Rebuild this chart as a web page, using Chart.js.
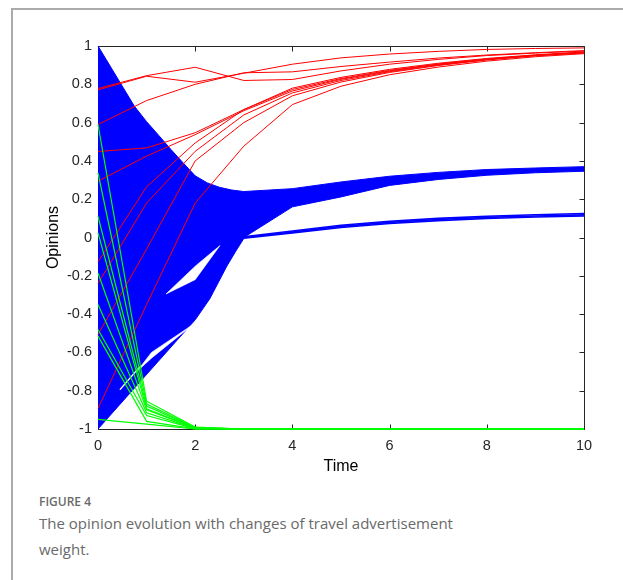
<!DOCTYPE html>
<html>
<head>
<meta charset="utf-8">
<script src="https://cdn.jsdelivr.net/npm/chart.js@4.4.1/dist/chart.umd.min.js"></script>
<style>
  html, body { margin: 0; padding: 0; background: #fff; width: 623px; height: 580px; overflow: hidden; }
  #frame { position: absolute; left: 11px; top: 8px; width: 700px; height: 700px;
           border-left: 2px solid #ababab; border-top: 2px solid #ababab; }
  #chart { position: absolute; left: 0; top: 0; }
  .caption { position: absolute; left: 39px; font-family: "Open Sans", "Noto Sans", sans-serif; color: #6a6a6a; white-space: nowrap; }
  #figno { top: 494px; font-size: 12px; font-weight: 600; line-height: 16px; }
  #figtext { top: 510px; font-size: 15px; font-weight: 400; line-height: 26px; }
</style>
</head>
<body>
<div id="frame"></div>
<canvas id="chart" width="623" height="480"></canvas>
<div id="figno" class="caption">FIGURE 4</div>
<div id="figtext" class="caption">The opinion evolution with changes of travel advertisement<br>weight.</div>
<script>
// time steps and axis ticks
const times = [0, 1, 2, 3, 4, 5, 6, 7, 8, 9, 10];
const xTickValues = [0, 2, 4, 6, 8, 10];
const yTickValues = [-1, -0.8, -0.6, -0.4, -0.2, 0, 0.2, 0.4, 0.6, 0.8, 1];

// opinions of the agents drawn in red, one row per agent, one value per time step
const redAgents = [
  [0.778, 0.845, 0.889, 0.820, 0.825, 0.870, 0.905, 0.930, 0.950, 0.963, 0.973],
  [0.771, 0.842, 0.811, 0.858, 0.905, 0.938, 0.958, 0.972, 0.982, 0.987, 0.990],
  [0.590, 0.715, 0.800, 0.860, 0.865, 0.893, 0.916, 0.937, 0.953, 0.965, 0.976],
  [0.449, 0.468, 0.547, 0.668, 0.773, 0.830, 0.873, 0.906, 0.932, 0.952, 0.967],
  [0.294, 0.425, 0.537, 0.662, 0.765, 0.826, 0.870, 0.904, 0.931, 0.951, 0.966],
  [-0.127, 0.265, 0.494, 0.668, 0.780, 0.836, 0.878, 0.910, 0.935, 0.954, 0.969],
  [-0.240, 0.180, 0.450, 0.640, 0.755, 0.820, 0.866, 0.901, 0.929, 0.950, 0.965],
  [-0.507, -0.060, 0.400, 0.600, 0.740, 0.812, 0.862, 0.898, 0.927, 0.949, 0.964],
  [-0.893, -0.350, 0.180, 0.477, 0.694, 0.790, 0.850, 0.890, 0.921, 0.944, 0.960]
];

// opinions of the agents drawn in green
const greenAgents = [
  [0.590, -0.855, -0.990, -1, -1, -1, -1, -1, -1, -1, -1],
  [0.338, -0.870, -0.992, -1, -1, -1, -1, -1, -1, -1, -1],
  [0.110, -0.880, -0.994, -1, -1, -1, -1, -1, -1, -1, -1],
  [0.024, -0.895, -0.995, -1, -1, -1, -1, -1, -1, -1, -1],
  [-0.185, -0.900, -0.996, -1, -1, -1, -1, -1, -1, -1, -1],
  [-0.350, -0.915, -0.997, -1, -1, -1, -1, -1, -1, -1, -1],
  [-0.480, -0.930, -0.998, -1, -1, -1, -1, -1, -1, -1, -1],
  [-0.515, -0.960, -0.999, -1, -1, -1, -1, -1, -1, -1, -1],
  [-0.950, -0.975, -1.000, -1, -1, -1, -1, -1, -1, -1, -1]
];

// upper and lower edges of the dense bundle of blue trajectories, [time, opinion]
const blueBundleTop = [
  [0, 1.0], [0.25, 0.895], [0.5, 0.79], [0.75, 0.685], [1.0, 0.605], [1.25, 0.533],
  [1.5, 0.46], [1.75, 0.39], [2.0, 0.322], [2.25, 0.285], [2.5, 0.262], [2.75, 0.248],
  [3.0, 0.24], [4, 0.255], [5, 0.29], [6, 0.32], [7, 0.34], [8, 0.355], [9, 0.363], [10, 0.37]
];
const blueBundleBottom = [
  [0, -1.0], [2.0, -0.43], [2.3, -0.32], [2.65, -0.15], [2.85, -0.065], [3.0, -0.005],
  [3.05, 0.008], [4, 0.16], [5, 0.212], [6, 0.272], [7, 0.303], [8, 0.325], [9, 0.338], [10, 0.346]
];

// the lower blue cluster from t = 3 onwards
const blueLowerClusterTimes = [3, 4, 5, 6, 7, 8, 9, 10];
const blueLowerCluster = [
  [-0.004, 0.024, 0.052, 0.073, 0.088, 0.099, 0.107, 0.112],
  [0.000, 0.029, 0.058, 0.079, 0.094, 0.105, 0.112, 0.118],
  [0.004, 0.034, 0.064, 0.085, 0.100, 0.111, 0.119, 0.125]
];

// open spaces between groups of blue trajectories, top and bottom edges, [time, opinion]
const blueGapUpperTop = [[1.40, -0.295], [2.0, -0.15], [2.51, -0.042]];
const blueGapUpperBottom = [[1.40, -0.295], [2.0, -0.22], [2.51, -0.042]];
const blueGapLowerTop = [[0.80, -0.70], [1.10, -0.60], [1.95, -0.455]];
const blueGapLowerBottom = [[0.80, -0.70], [1.10, -0.63], [1.95, -0.455]];
const blueGapStreak = [[0.45, -0.795], [0.86, -0.675]];

const axisColor = '#262626';
const toSeries = (vals, ts) => vals.map((v, i) => ({ x: ts[i], y: v }));
const toPairs = arr => arr.map(([x, y]) => ({ x, y }));

const datasets = [];
greenAgents.forEach(a => datasets.push({
  data: toSeries(a, times), borderColor: '#00ff00', borderWidth: 1.2, fill: false, order: 0, clip: false
}));
redAgents.forEach(a => datasets.push({
  data: toSeries(a, times), borderColor: '#ff0000', borderWidth: 1, fill: false, order: 1, clip: false
}));

// a filled band: the top edge dataset is filled down to the bottom edge dataset
function addBand(top, bottom, color, order, width) {
  const bottomIndex = datasets.length + 1;
  datasets.push({
    data: toPairs(top), borderColor: color, backgroundColor: color, borderWidth: width,
    fill: bottomIndex, order, clip: false
  });
  datasets.push({
    data: toPairs(bottom), borderColor: color, backgroundColor: color, borderWidth: width,
    fill: false, order, clip: false
  });
}
addBand(blueBundleTop, blueBundleBottom, '#0000ff', 4, 1);
addBand(blueGapUpperTop, blueGapUpperBottom, '#ffffff', 2, 0.6);
addBand(blueGapLowerTop, blueGapLowerBottom, '#ffffff', 2, 0.6);
datasets.push({ data: toPairs(blueGapStreak), borderColor: '#ffffff', borderWidth: 1.2, fill: false, order: 2 });
blueLowerCluster.forEach(a => datasets.push({
  data: toSeries(a, blueLowerClusterTimes), borderColor: '#0000ff', borderWidth: 1.6, fill: false, order: 3, clip: false
}));

// box around the axes with inward tick marks on all four sides
const axesBox = {
  id: 'axesBox',
  beforeDatasetsDraw(chart) {
    const { ctx, chartArea: a, scales: { x, y } } = chart;
    const L = Math.round(a.left) + 0.5, R = Math.round(a.right) + 0.5;
    const T = Math.round(a.top) + 0.5, B = Math.round(a.bottom) + 0.5;
    const len = 5;
    ctx.save();
    ctx.strokeStyle = axisColor;
    ctx.lineWidth = 1;
    ctx.beginPath();
    ctx.rect(L, T, R - L, B - T);
    xTickValues.forEach(v => {
      const p = Math.round(x.getPixelForValue(v)) + 0.5;
      ctx.moveTo(p, B); ctx.lineTo(p, B - len);
      ctx.moveTo(p, T); ctx.lineTo(p, T + len);
    });
    yTickValues.forEach(v => {
      const p = Math.round(y.getPixelForValue(v)) + 0.5;
      ctx.moveTo(L, p); ctx.lineTo(L + len, p);
      ctx.moveTo(R, p); ctx.lineTo(R - len, p);
    });
    ctx.stroke();
    ctx.beginPath();
    ctx.restore();
  }
};

Chart.defaults.font.family = '"Liberation Sans", Arial, sans-serif';
Chart.defaults.color = axisColor;

new Chart(document.getElementById('chart'), {
  type: 'line',
  data: { datasets },
  options: {
    responsive: false,
    animation: false,
    layout: { padding: { left: 0, top: 46, right: 39, bottom: 0 } },
    elements: { point: { radius: 0 } },
    plugins: { legend: { display: false }, tooltip: { enabled: false } },
    scales: {
      x: {
        type: 'linear', min: 0, max: 10,
        grid: { display: false, drawTicks: false }, border: { display: false },
        afterBuildTicks: s => { s.ticks = xTickValues.map(v => ({ value: v })); },
        afterFit: s => { s.height = 51; },
        ticks: { padding: 8, font: { size: 14.5 }, color: axisColor, callback: v => String(v), maxRotation: 0 },
        title: { display: true, text: 'Time', font: { size: 16 }, color: '#000', padding: { top: 0, bottom: 4 } }
      },
      y: {
        type: 'linear', min: -1, max: 1,
        grid: { display: false, drawTicks: false }, border: { display: false },
        afterBuildTicks: s => { s.ticks = yTickValues.map(v => ({ value: v })); },
        afterFit: s => { s.width = 98; },
        ticks: { padding: 6, font: { size: 14.5 }, color: axisColor, callback: v => String(v) },
        title: { display: true, text: 'Opinions', font: { size: 16 }, color: '#000', padding: { top: 44, bottom: 0 } }
      }
    }
  },
  plugins: [axesBox]
});
</script>
</body>
</html>
